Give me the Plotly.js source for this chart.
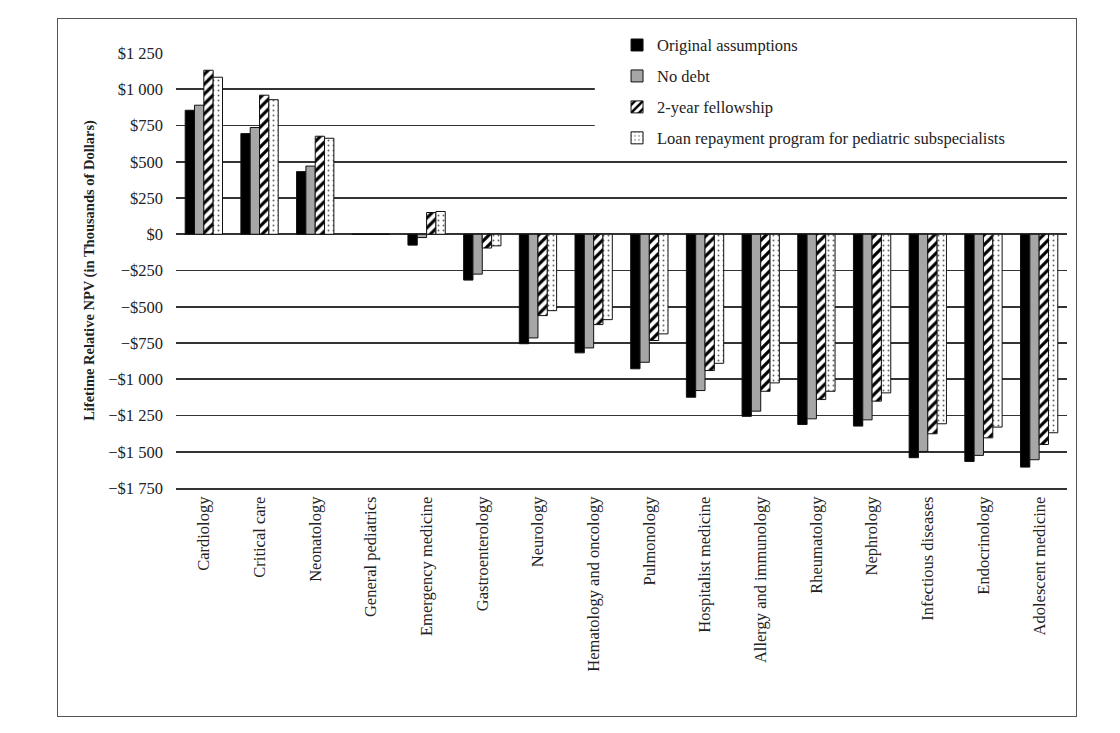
<!DOCTYPE html>
<html>
<head>
<meta charset="utf-8">
<script src="https://cdn.plot.ly/plotly-3.0.1.min.js"></script>
<style>
  html, body { margin: 0; padding: 0; background: #fff; }
  #chart { width: 1120px; height: 733px; }
  #frame { position: absolute; left: 57px; top: 18px; width: 1020px; height: 699px;
           border: 1.5px solid #555; pointer-events: none; box-sizing: border-box; }
</style>
</head>
<body>
<div id="chart"></div>
<div id="frame"></div>
<script>
const categories = ["Cardiology", "Critical care", "Neonatology", "General pediatrics",
  "Emergency medicine", "Gastroenterology", "Neurology", "Hematology and oncology",
  "Pulmonology", "Hospitalist medicine", "Allergy and immunology", "Rheumatology",
  "Nephrology", "Infectious diseases", "Endocrinology", "Adolescent medicine"];

const seriesNames = ["Original assumptions", "No debt", "2-year fellowship",
  "Loan repayment program for pediatric subspecialists"];

const originalAssumptions = [855, 694, 432, 0, -75, -316, -755, -818, -928, -1124, -1256, -1312, -1323, -1541, -1567, -1606];
const noDebt              = [890, 736, 470, 0, -23, -275, -715, -784, -883, -1078, -1220, -1273, -1280, -1498, -1525, -1555];
const twoYearFellowship   = [1131, 959, 676, 0, 150, -95, -561, -623, -733, -940, -1083, -1140, -1151, -1376, -1404, -1450];
const loanRepayment       = [1083, 928, 662, 0, 157, -80, -527, -589, -687, -890, -1025, -1083, -1094, -1307, -1330, -1369];

const tickValues = [1250, 1000, 750, 500, 250, 0, -250, -500, -750, -1000, -1250, -1500, -1750];
const tickLabels = ["$1 250", "$1 000", "$750", "$500", "$250", "$0", "\u2212$250", "\u2212$500",
  "\u2212$750", "\u2212$1 000", "\u2212$1 250", "\u2212$1 500", "\u2212$1 750"];

const serif = "Liberation Serif, Times New Roman, serif";
const outline = { color: "#111", width: 1 };

const traces = [
  { name: seriesNames[0], y: originalAssumptions,
    marker: { color: "#000", line: outline } },
  { name: seriesNames[1], y: noDebt,
    marker: { color: "#a6a6a6", line: outline } },
  { name: seriesNames[2], y: twoYearFellowship,
    marker: { color: "#fff", line: outline,
      pattern: { shape: "/", fgcolor: "#000", bgcolor: "#fff", size: 7, solidity: 0.45 } } },
  { name: seriesNames[3], y: loanRepayment,
    marker: { color: "#fff", line: outline,
      pattern: { shape: ".", fgcolor: "#666", bgcolor: "#fff", size: 5, solidity: 0.12 } } }
].map((t, i) => Object.assign({ type: "bar", x: categories, legendgroup: "g" + i }, t));

const layout = {
  width: 1120, height: 733,
  margin: { l: 176, r: 53, t: 53, b: 245 },
  paper_bgcolor: "#fff", plot_bgcolor: "#fff",
  font: { family: serif, size: 16, color: "#222" },
  barmode: "group", bargap: 0.33, bargroupgap: 0,
  showlegend: true,
  legend: { x: 0.495, xanchor: "left", y: 1.058, yanchor: "top",
    bgcolor: "rgba(0,0,0,0)", font: { family: serif, size: 16.5, color: "#222" },
    traceorder: "grouped", tracegroupgap: 6.5 },
  xaxis: { type: "category", tickangle: -90, showgrid: false, showline: true,
    linecolor: "#333", linewidth: 2, ticks: "", tickfont: { family: serif, size: 16.5, color: "#222" },
    fixedrange: true },
  yaxis: { range: [-1750, 1250], tickvals: tickValues, ticktext: tickLabels,
    showgrid: true, gridcolor: "#333", gridwidth: 1.6,
    zeroline: true, zerolinecolor: "#333", zerolinewidth: 1.6,
    showline: false, ticks: "", ticklabelstandoff: 12,
    tickfont: { family: serif, size: 16.5, color: "#222" },
    title: { text: "<b>Lifetime Relative NPV (in Thousands of Dollars)</b>", standoff: 10,
      font: { family: serif, size: 14.5, color: "#222" } },
    fixedrange: true },
  shapes: [{ type: "rect", xref: "paper", yref: "y", x0: 0.47, x1: 1.0, y0: 565, y1: 1260,
    fillcolor: "#fff", line: { width: 0 }, layer: "above" }]
};

Plotly.newPlot("chart", traces, layout, { displayModeBar: false, staticPlot: true });
</script>
</body>
</html>
